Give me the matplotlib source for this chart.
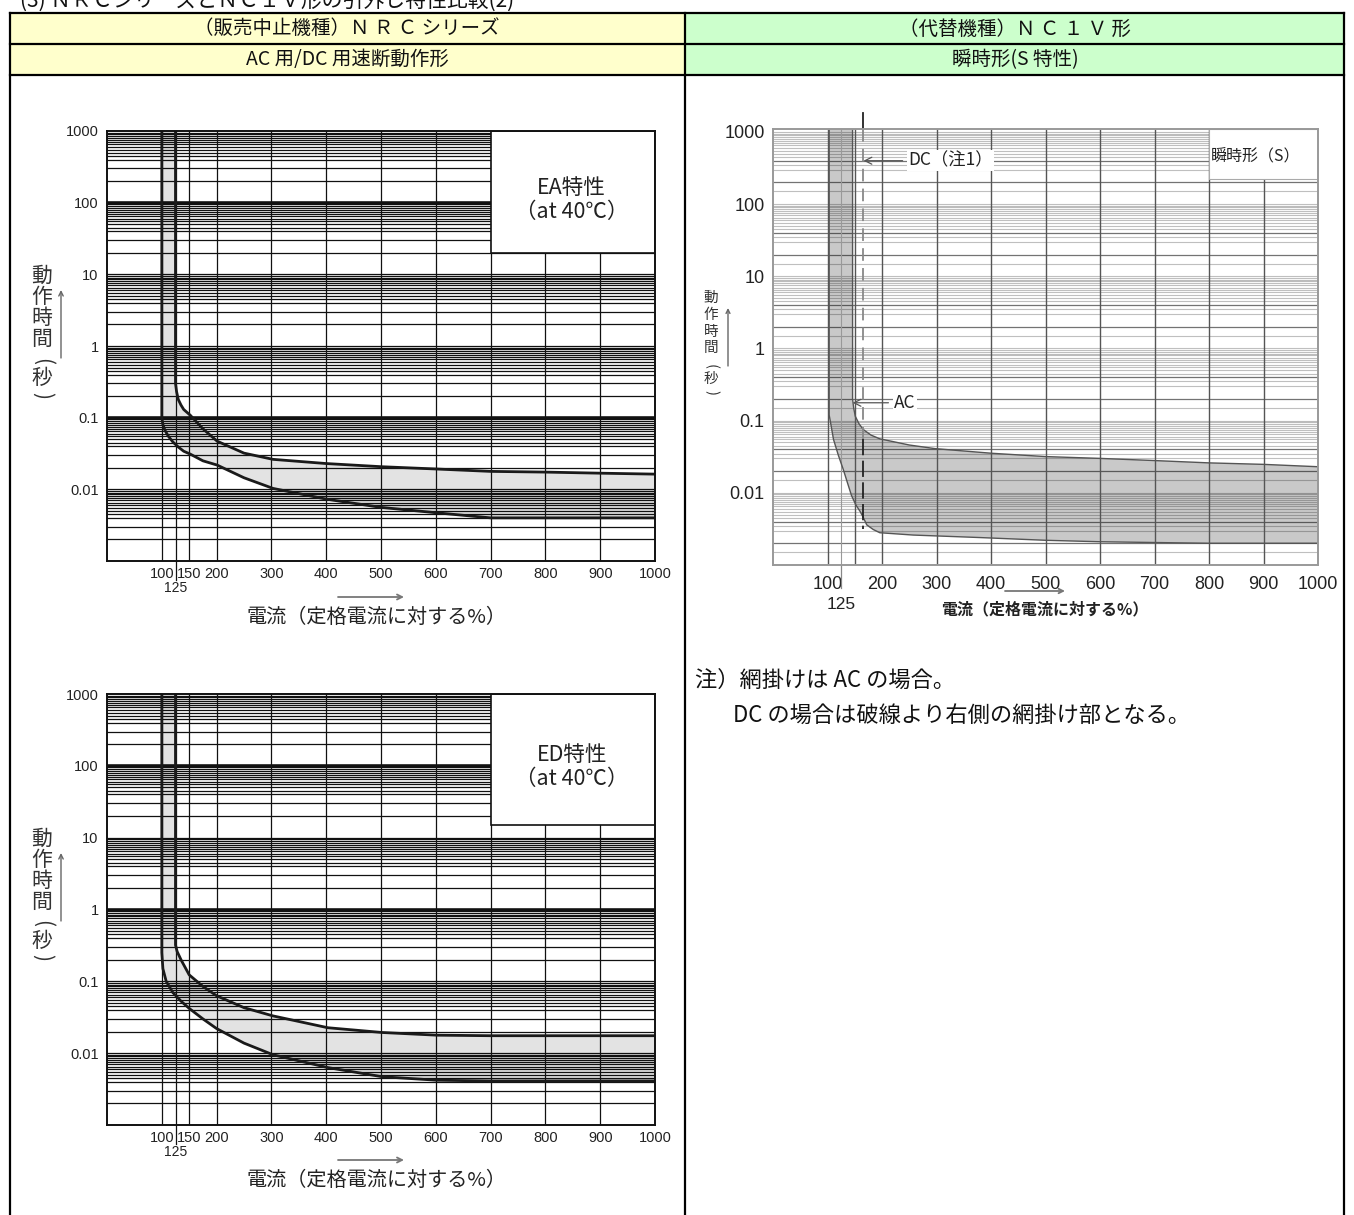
import math
import matplotlib
matplotlib.use('Agg')
import matplotlib.pyplot as plt
from matplotlib.patches import Rectangle, Polygon, FancyArrowPatch
from matplotlib.lines import Line2D
import matplotlib.transforms as mtransforms

W, H = 1354, 1215
JP = ['Noto Sans CJK JP', 'DejaVu Sans']
LAT = ['Liberation Sans', 'DejaVu Sans']

# ---------------- data ----------------
title_text = "(3) ＮＲＣシリーズとＮＣ１Ｖ形の引外し特性比較(2)"
head_left_1 = "（販売中止機種）Ｎ Ｒ Ｃ シリーズ"
head_left_2 = "AC 用/DC 用速断動作形"
head_right_1 = "（代替機種）Ｎ Ｃ １ Ｖ 形"
head_right_2 = "瞬時形(S 特性)"
ylabel_chars = ["動", "作", "時", "間", "(", "秒", ")"]
xlabel_text = "電流（定格電流に対する%）"
note_1 = "注）網掛けは AC の場合。"
note_2 = "DC の場合は破線より右側の網掛け部となる。"
ea_label = "EA特性\n（at 40℃）"
ed_label = "ED特性\n（at 40℃）"
s_label = "瞬時形（S）"
dc_label = "DC（注1）"
ac_label = "AC"

x_ticks_left = [100, 150, 200, 300, 400, 500, 600, 700, 800, 900, 1000]
x_ticks_right = [100, 200, 300, 400, 500, 600, 700, 800, 900, 1000]
x_tick_extra = 125
y_ticks = [1000, 100, 10, 1, 0.1, 0.01]
y_tick_labels = ["1000", "100", "10", "1", "0.1", "0.01"]
vgrid_left = [100, 125, 150, 200, 300, 400, 500, 600, 700, 800, 900]
vgrid_right = [100, 150, 200, 300, 400, 500, 600, 700, 800, 900]
grid_mults_left = [1, 2, 3, 4, 4.5, 5, 5.5, 6, 6.5, 7, 7.5, 8, 8.5, 9, 9.5]
grid_mults_right = [1, 1.5, 2, 3, 3.5, 4, 4.5, 5, 5.5, 6, 6.5, 7, 7.5, 8, 8.5, 9, 9.5]
dark_mults_right = [2, 4]

# EA characteristic (NRC)
ea_low_x = [100, 100, 102, 106, 112, 120, 130, 140, 152, 175, 201, 250, 303, 400, 500, 602, 700, 1000]
ea_low_y = [1000, 0.1, 0.08, 0.066, 0.055, 0.046, 0.039, 0.034, 0.031, 0.025, 0.0218, 0.0145, 0.0103, 0.0073, 0.0056, 0.0047, 0.004, 0.004]
ea_up_x = [125, 125, 127, 130, 135, 140, 152, 175, 201, 250, 303, 400, 500, 602, 700, 800, 900, 1000]
ea_up_y = [1000, 0.3, 0.23, 0.18, 0.15, 0.13, 0.108, 0.07, 0.047, 0.032, 0.0262, 0.0229, 0.0207, 0.0192, 0.0178, 0.0174, 0.0168, 0.0163]
ea_box_bottom = 20
ea_thick = [100, 0.1]

# ED characteristic (NRC)
ed_low_x = [100, 100, 102, 108, 120, 135, 150, 175, 200, 250, 303, 403, 502, 602, 700, 1000]
ed_low_y = [1000, 0.25, 0.15, 0.1, 0.07, 0.053, 0.042, 0.03, 0.022, 0.0138, 0.0095, 0.0063, 0.0047, 0.0042, 0.0041, 0.0041]
ed_up_x = [125, 125, 128, 135, 150, 175, 200, 250, 303, 403, 502, 602, 700, 1000]
ed_up_y = [1000, 0.32, 0.26, 0.2, 0.123, 0.085, 0.063, 0.043, 0.033, 0.0226, 0.0194, 0.0178, 0.0175, 0.0175]
ed_box_bottom = 15
ed_thick = [100, 1]

# NC1V instantaneous (S)
s_low_x = [103, 103, 105, 111, 120, 129, 137, 144, 152, 160, 166, 172, 184, 196, 257, 380, 500, 600, 800, 1000]
s_low_y = [1100, 0.12, 0.1, 0.055, 0.033, 0.021, 0.0135, 0.0092, 0.0068, 0.0055, 0.0045, 0.0036, 0.0031, 0.0028, 0.0026, 0.0024, 0.0022, 0.0021, 0.002, 0.002]
s_up_x = [146, 146, 148, 151, 158, 166, 180, 196, 250, 297, 400, 500, 600, 700, 800, 900, 1000]
s_up_y = [1100, 0.2, 0.15, 0.115, 0.09, 0.075, 0.063, 0.056, 0.046, 0.041, 0.0354, 0.0318, 0.030, 0.028, 0.026, 0.0248, 0.023]
s_box_bottom = 220
dc_x = 166
dc_top = 1100
dc_split = 0.056
dc_bottom = 0.0032
dc_arrow_y = 400
ac_arrow = (146, 0.177)

# ---------------- helpers ----------------
fig = plt.figure(figsize=(W / 100, H / 100), dpi=100)


def fx(x):
    return x / W


def fy(y):
    return 1 - y / H


def axes_px(l, t, r, b):
    return fig.add_axes([fx(l), fy(b), (r - l) / W, (b - t) / H])


def fline(x0, y0, x1, y1, **kw):
    fig.add_artist(Line2D([fx(x0), fx(x1)], [fy(y0), fy(y1)], transform=fig.transFigure, **kw))


def farrow(x0, y0, x1, y1, color='#555', lw=1.0, ms=9):
    fig.add_artist(FancyArrowPatch((fx(x0), fy(y0)), (fx(x1), fy(y1)), transform=fig.transFigure,
                                   arrowstyle='->', mutation_scale=ms, color=color, lw=lw,
                                   shrinkA=0, shrinkB=0))


def grid_vals(mults, top):
    vals = []
    for k in range(-3, 4):
        for m in mults:
            v = m * 10.0 ** k
            if 0.001 < v < top:
                vals.append((m, v))
    return vals


def ylabel_stack(x, y0, steps, size, color):
    y = y0
    for ch, st in zip(ylabel_chars, steps):
        rot = -90 if ch in "()" else 0
        fig.text(fx(x), fy(y), ch, ha='center', va='center', fontsize=size,
                 family=JP, color=color, rotation=rot)
        y += st


# ---------------- table frame ----------------
fig.add_artist(Rectangle((fx(10), fy(75)), fx(685) - fx(10), fy(13) - fy(75),
                         transform=fig.transFigure, fc='#FFFFCC', ec='none'))
fig.add_artist(Rectangle((fx(685), fy(75)), fx(1344) - fx(685), fy(13) - fy(75),
                         transform=fig.transFigure, fc='#CCFFCC', ec='none'))
for yy in [13, 44, 75]:
    fline(10, yy, 1344, yy, color='black', lw=1.6)
for xx in [10, 685, 1344]:
    fline(xx, 13, xx, 1215, color='black', lw=1.6)

fig.text(fx(20), fy(1), title_text, ha='left', va='center', fontsize=15, family=JP, color='#111')
fig.text(fx(347), fy(29), head_left_1, ha='center', va='center', fontsize=14, family=JP, color='#111')
fig.text(fx(347), fy(60), head_left_2, ha='center', va='center', fontsize=14, family=JP, color='#111')
fig.text(fx(1015), fy(29), head_right_1, ha='center', va='center', fontsize=14, family=JP, color='#111')
fig.text(fx(1015), fy(60), head_right_2, ha='center', va='center', fontsize=14, family=JP, color='#111')


# ---------------- NRC charts ----------------
def nrc_chart(top, bottom, low_x, low_y, up_x, up_y, box_bottom, thick, label):
    ax = axes_px(107, top, 655, bottom)
    ax.set_xscale('linear')
    ax.set_yscale('log')
    for m, v in grid_vals(grid_mults_left, 1000):
        ax.axhline(v, color='#111', lw=2.6 if v in thick else 0.9, zorder=2)
    for xv in vgrid_left:
        ax.axvline(xv, color='#111', lw=0.9, zorder=2)
    verts = list(zip(low_x, low_y)) + list(zip(up_x[::-1], up_y[::-1]))
    ax.add_patch(Polygon(verts, closed=True, fc='#e3e3e3', ec='none', zorder=1))
    ax.plot(low_x, low_y, color='#1a1a1a', lw=2.0, zorder=3, solid_joinstyle='round')
    ax.plot(up_x, up_y, color='#1a1a1a', lw=2.0, zorder=3, solid_joinstyle='round')
    ax.add_patch(Rectangle((700, box_bottom), 300, 1000 - box_bottom, fc='white', ec='#111',
                           lw=1.2, zorder=4))
    ymid = 10 ** ((3 + math.log10(box_bottom)) / 2) * 0.78
    ax.text(848, ymid, label, ha='center', va='center', fontsize=15.5, family=JP, color='#222',
            zorder=5, linespacing=1.1)
    # 125 tick line & label
    ax.plot([x_tick_extra, x_tick_extra], [0.001, 0.001 * 10 ** (-0.26)], color='#111', lw=0.9,
            clip_on=False)
    trans = mtransforms.blended_transform_factory(ax.transData, ax.transAxes)
    ax.text(x_tick_extra, -0.062, str(x_tick_extra), transform=trans, ha='center', va='center',
            fontsize=10, family=LAT, color='#222')
    ax.set_xlim(0, 1000)
    ax.set_ylim(0.001, 1000)
    ax.set_xticks(x_ticks_left)
    ax.set_xticklabels([str(v) for v in x_ticks_left], fontsize=10.5, family=LAT, color='#222')
    ax.set_yticks(y_ticks)
    ax.set_yticklabels(y_tick_labels, fontsize=10.5, family=LAT, color='#222')
    ax.yaxis.set_minor_locator(matplotlib.ticker.NullLocator())
    ax.tick_params(axis='both', length=0)
    ax.tick_params(axis='x', pad=4)
    ax.tick_params(axis='y', pad=6)
    for s in ax.spines.values():
        s.set_color('#111')
        s.set_linewidth(1.4)
        s.set_zorder(6)
    return ax


nrc_chart(131, 561, ea_low_x, ea_low_y, ea_up_x, ea_up_y, ea_box_bottom, ea_thick, ea_label)
nrc_chart(694, 1125, ed_low_x, ed_low_y, ed_up_x, ed_up_y, ed_box_bottom, ed_thick, ed_label)

for off in [0, 563]:
    ylabel_stack(42, 276 + off, [21, 21, 21, 22, 17, 17, 0], 15, '#333')
    farrow(61, 358 + off, 61, 290 + off, color='#666', lw=1.0, ms=8)
    farrow(338, 597 + off, 404, 597 + off, color='#777', lw=1.3, ms=9)
    fig.text(fx(377), fy(617 + off), xlabel_text, ha='center', va='center', fontsize=14.5,
             family=JP, color='#222')

# ---------------- NC1V chart ----------------
ax = axes_px(773, 129, 1318, 565)
ax.set_yscale('log')
for m, v in grid_vals(grid_mults_right, 1100):
    dark = m in dark_mults_right
    ax.axhline(v, color='black', alpha=0.55 if dark else 0.25, lw=0.9 if dark else 0.8, zorder=2)
for xv in vgrid_right:
    ax.axvline(xv, color='#555', lw=1.0, zorder=2)
ax.axvline(x_tick_extra, color='#999', lw=0.8, zorder=2)
verts = list(zip(s_low_x, s_low_y)) + list(zip(s_up_x[::-1], s_up_y[::-1]))
ax.add_patch(Polygon(verts, closed=True, fc='#c9c9c9', ec='none', zorder=1))
ax.plot(s_low_x, s_low_y, color='#555', lw=1.0, zorder=3)
ax.plot(s_up_x, s_up_y, color='#555', lw=1.0, zorder=3)
ax.plot([dc_x, dc_x], [dc_top, dc_split], color='#888', lw=1.3, ls=(0, (7, 4)), zorder=3)
ax.plot([dc_x, dc_x], [dc_split, dc_bottom], color='#222', lw=1.3, ls=(0, (9, 3)), zorder=3)
ax.plot([dc_x, dc_x], [dc_top, 1850], color='#222', lw=1.3, clip_on=False)
ax.add_patch(Rectangle((800, s_box_bottom), 200, 1100 - s_box_bottom, fc='white', ec='#aaa',
                       lw=0.8, zorder=4))
ax.text(885, 460, s_label, ha='center', va='center', fontsize=11.5, family=JP, color='#222', zorder=5)
ax.annotate(dc_label, xy=(dc_x, dc_arrow_y), xytext=(248, dc_arrow_y), ha='left', va='center',
            fontsize=12.5, family=JP, color='#222', zorder=6,
            bbox=dict(fc='white', ec='none', pad=1),
            arrowprops=dict(arrowstyle='->', color='#555', lw=0.9, shrinkA=3, shrinkB=0))
ax.annotate(ac_label, xy=ac_arrow, xytext=(222, ac_arrow[1]), ha='left', va='center',
            fontsize=12.5, family=JP, color='#222', zorder=6,
            bbox=dict(fc='white', ec='none', pad=1),
            arrowprops=dict(arrowstyle='->', color='#555', lw=0.9, shrinkA=3, shrinkB=0))
ax.plot([x_tick_extra, x_tick_extra], [0.001, 0.001 * 10 ** (-0.32)], color='#888', lw=0.9,
        clip_on=False)
trans = mtransforms.blended_transform_factory(ax.transData, ax.transAxes)
ax.text(x_tick_extra, -0.09, str(x_tick_extra), transform=trans, ha='center', va='center',
        fontsize=12.5, family=LAT, color='#222')
ax.set_xlim(0, 1000)
ax.set_ylim(0.001, 1100)
ax.set_xticks(x_ticks_right)
ax.set_xticklabels([str(v) for v in x_ticks_right], fontsize=13, family=LAT, color='#222')
ax.set_yticks(y_ticks)
ax.set_yticklabels(y_tick_labels, fontsize=13, family=LAT, color='#222')
ax.yaxis.set_minor_locator(matplotlib.ticker.NullLocator())
ax.tick_params(axis='both', length=0)
ax.tick_params(axis='x', pad=8)
ax.tick_params(axis='y', pad=6)
for s in ax.spines.values():
    s.set_color('#999')
    s.set_linewidth(1.4)
    s.set_zorder(6)

ylabel_stack(711, 298, [17, 17, 16, 18, 13, 13, 0], 10.5, '#333')
farrow(728, 366, 728, 308, color='#666', lw=1.0, ms=7)
farrow(1005, 591, 1065, 591, color='#777', lw=1.3, ms=8)
fig.text(fx(1045), fy(609), xlabel_text, ha='center', va='center', fontsize=11.5, family=JP,
         color='#222', weight='bold')

fig.text(fx(695), fy(680), note_1, ha='left', va='center', fontsize=16, family=JP, color='#111')
fig.text(fx(733), fy(715), note_2, ha='left', va='center', fontsize=16, family=JP, color='#111')

fig.savefig('out.png', dpi=100)
